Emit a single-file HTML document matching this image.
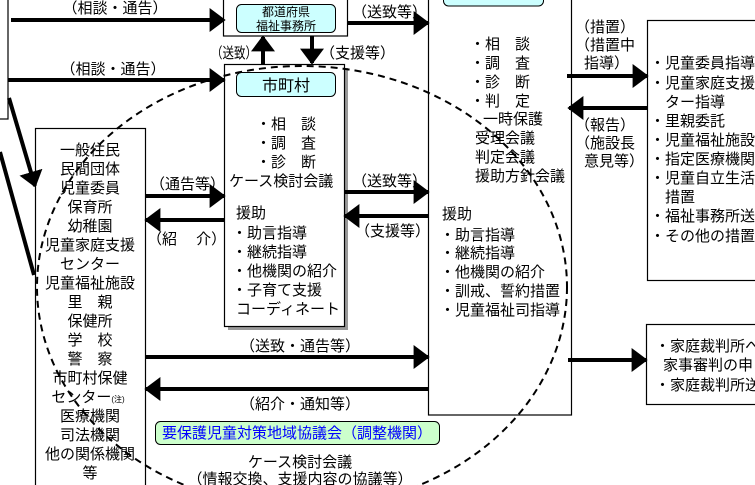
<!DOCTYPE html>
<html><head><meta charset="utf-8"><style>
html,body{margin:0;padding:0;background:#fff;}
svg{display:block;}
text{font-family:"Liberation Sans","Noto Sans CJK JP",sans-serif;font-size:15px;fill:#000;}
</style></head><body>
<svg width="755" height="485" viewBox="0 0 755 485" xmlns="http://www.w3.org/2000/svg">
<defs>
<marker id="a" markerWidth="4" markerHeight="6" refX="3.6" refY="3" orient="auto" markerUnits="strokeWidth"><path d="M0,0 L4,3 L0,6 z" fill="#000"/></marker>
</defs>
<g fill="#fff" stroke="#000" stroke-width="1.2">
<rect x="-5" y="-5" width="13" height="124"/>
<rect x="223.5" y="-2" width="124" height="38"/>
<rect x="228" y="68" width="120" height="262" fill="#999" stroke="none"/>
<rect x="224.5" y="64.5" width="120" height="262"/>
<rect x="35.5" y="128.5" width="110" height="370"/>
<rect x="428.5" y="-5" width="143" height="420"/>
<rect x="647.5" y="20.5" width="120" height="260"/>
<rect x="646.5" y="324.5" width="120" height="80"/>
</g>
<g fill="#ccffff" stroke="#000" stroke-width="1">
<rect x="236.5" y="4.5" width="99" height="28" rx="5"/>
<rect x="236.5" y="72.5" width="99" height="24" rx="5"/>
<rect x="443.5" y="-12" width="100" height="18" rx="5"/>
</g>
<rect x="155.5" y="421.5" width="284" height="23" rx="5" fill="#ccffcc" stroke="#000"/>
<g stroke="#000" stroke-width="4" fill="none" marker-end="url(#a)">
<line x1="11" y1="20" x2="224" y2="20"/>
<line x1="8" y1="80" x2="224" y2="80"/>
<line x1="263" y1="64" x2="263" y2="37"/>
<line x1="312" y1="36" x2="312" y2="63"/>
<line x1="347" y1="23" x2="428" y2="23"/>
<line x1="145" y1="196" x2="224" y2="196"/>
<line x1="224" y1="220" x2="146" y2="220"/>
<line x1="344" y1="192" x2="428" y2="192"/>
<line x1="428" y1="216" x2="345" y2="216"/>
<line x1="145" y1="357" x2="428" y2="357"/>
<line x1="428" y1="389" x2="146" y2="389"/>
<line x1="567" y1="76" x2="647" y2="76"/>
<line x1="647" y1="108" x2="569" y2="108"/>
<line x1="568" y1="360" x2="646" y2="360"/>
<line x1="9" y1="98" x2="35" y2="186"/>
</g>
<line x1="0" y1="152" x2="34" y2="275" stroke="#000" stroke-width="4"/>
<ellipse cx="302" cy="287" rx="265" ry="221" fill="none" stroke="#000" stroke-width="2" stroke-dasharray="7,5"/>
<g text-anchor="middle">
<text x="286" y="16" style="font-size:12px">都道府県</text>
<text x="286" y="30" style="font-size:12px">福祉事務所</text>
<text x="286" y="91" style="font-size:16px">市町村</text>
</g>
<text x="115" y="13" text-anchor="middle">（相談・通告）</text>
<text x="113" y="74" text-anchor="middle">（相談・通告）</text>
<text x="211" y="58" textLength="46" lengthAdjust="spacingAndGlyphs">（送致）</text>
<text x="320" y="58">（支援等）</text>
<text x="352" y="17">（送致等）</text>
<text x="352" y="186">（送致等）</text>
<text x="355" y="236">（支援等）</text>
<text x="150" y="189">（通告等）</text>
<text x="147" y="244">（紹　 介）</text>
<text x="300" y="351" text-anchor="middle">（送致・通告等）</text>
<text x="300" y="409" text-anchor="middle">（紹介・通知等）</text>
<text x="297" y="438" text-anchor="middle" style="fill:#0000ff">要保護児童対策地域協議会（調整機関）</text>
<text x="300" y="467" text-anchor="middle">ケース検討会議</text>
<text x="300" y="484" text-anchor="middle">（情報交換、支援内容の協議等）</text>
<g>
<text x="256" y="129">・相　談</text>
<text x="256" y="148">・調　査</text>
<text x="256" y="167">・診　断</text>
<text x="229" y="186">ケース検討会議</text>
<text x="236" y="218">援助</text>
<text x="232" y="238">・助言指導</text>
<text x="232" y="257">・継続指導</text>
<text x="232" y="276">・他機関の紹介</text>
<text x="232" y="295">・子育て支援</text>
<text x="236" y="314">コーディネート</text>
</g>
<g text-anchor="middle">
<text x="90" y="155">一般住民</text><text x="90" y="174">民間団体</text><text x="90" y="193">児童委員</text>
<text x="90" y="212">保育所</text><text x="90" y="231">幼稚園</text><text x="90" y="250">児童家庭支援</text>
<text x="90" y="269">センター</text><text x="90" y="288">児童福祉施設</text><text x="90" y="307">里　親</text>
<text x="90" y="326">保健所</text><text x="90" y="345">学　校</text><text x="90" y="364">警　察</text>
<text x="90" y="383">市町村保健</text><text x="88" y="402">センター<tspan style="font-size:8px">(注)</tspan></text>
<text x="90" y="421">医療機関</text><text x="90" y="440">司法機関</text><text x="90" y="459">他の関係機関</text><text x="90" y="478">等</text>
</g>
<g>
<text x="470" y="49">・相　談</text><text x="470" y="68">・調　査</text><text x="470" y="87">・診　断</text>
<text x="470" y="106">・判　定</text><text x="483" y="124">一時保護</text><text x="475" y="143">受理会議</text>
<text x="475" y="162">判定会議</text><text x="475" y="181">援助方針会議</text>
<text x="442" y="219">援助</text><text x="440" y="240">・助言指導</text><text x="440" y="258">・継続指導</text>
<text x="440" y="277">・他機関の紹介</text><text x="440" y="296">・訓戒、誓約措置</text><text x="440" y="315">・児童福祉司指導</text>
</g>
<text x="575" y="32">（措置）</text><text x="575" y="50">（措置中</text><text x="584" y="68">指導）</text>
<text x="575" y="130">（報告）</text><text x="575" y="148">（施設長</text><text x="584" y="166">意見等）</text>
<g>
<text x="650" y="68">・児童委員指導</text><text x="650" y="88">・児童家庭支援セン</text><text x="665" y="107">ター指導</text>
<text x="650" y="126">・里親委託</text><text x="650" y="145">・児童福祉施設</text><text x="650" y="164">・指定医療機関</text>
<text x="650" y="183">・児童自立生活</text><text x="665" y="202">措置</text><text x="650" y="221">・福祉事務所送致</text>
<text x="650" y="241">・その他の措置</text>
<text x="655" y="351">・家庭裁判所へ</text><text x="663" y="370">家事審判の申</text><text x="655" y="390">・家庭裁判所送</text>
</g>
</svg>
</body></html>
